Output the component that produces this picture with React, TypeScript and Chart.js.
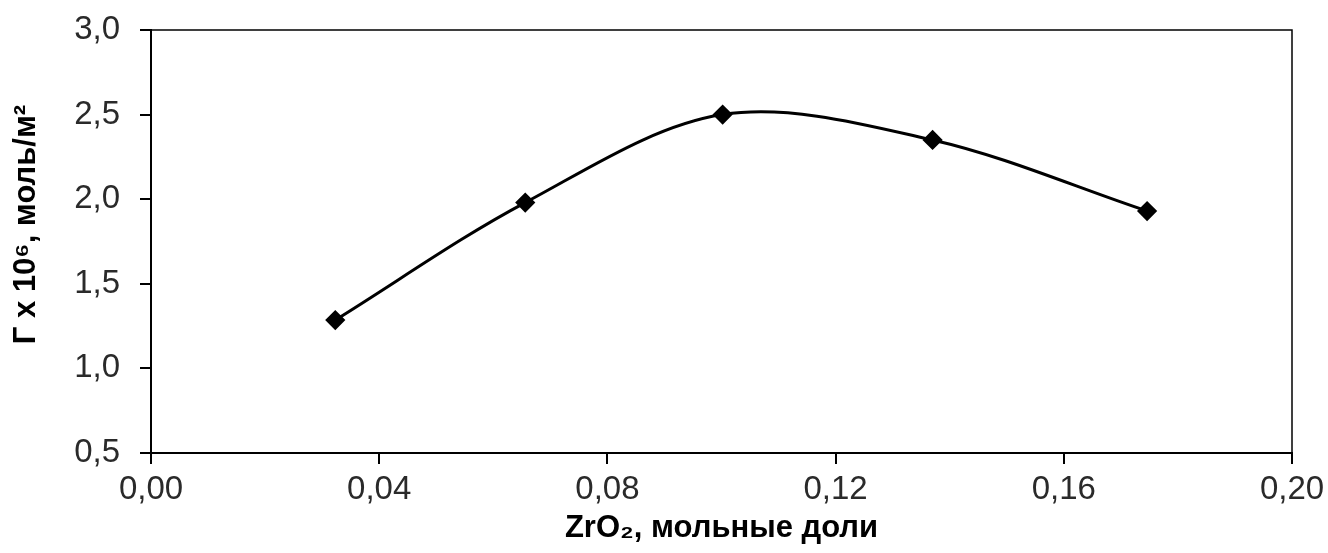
import React, { useEffect, useRef } from "react";
import { Chart, registerables } from "chart.js";

Chart.register(...registerables);

const xValues = [0.0323, 0.0656, 0.1002, 0.137, 0.1746];
const yValues = [1.286, 1.98, 2.5, 2.35, 1.93];
const xTitle = "ZrO\u2082, мольные доли";
const yTitle = "Г x 10\u2076, моль/м\u00B2";

const FAMILY = "'Liberation Sans', Arial, sans-serif";

const boxPlugin = {
  id: "box",
  afterDraw(chart: any) {
    const { ctx, chartArea } = chart;
    ctx.save();
    ctx.strokeStyle = "#000";
    ctx.lineWidth = 1.5;
    ctx.strokeRect(chartArea.left, chartArea.top, chartArea.right - chartArea.left, chartArea.bottom - chartArea.top);
    ctx.restore();
  },
};

const yTitlePlugin = {
  id: "yTitle",
  afterDraw(chart: any) {
    const { ctx, chartArea } = chart;
    const cy = (chartArea.top + chartArea.bottom) / 2 - 17;
    ctx.save();
    ctx.translate(26, cy);
    ctx.rotate(-Math.PI / 2);
    ctx.font = `bold 31px ${FAMILY}`;
    ctx.fillStyle = "#000";
    ctx.textAlign = "center";
    ctx.textBaseline = "middle";
    ctx.fillText(yTitle, 0, 0);
    ctx.restore();
  },
};

export default function App() {
  const ref = useRef<HTMLCanvasElement>(null);
  useEffect(() => {
    if (!ref.current) return;
    const tickFont = { family: FAMILY, size: 33 };
    const titleFont = { family: FAMILY, size: 31, weight: "bold" as const };
    const chart = new Chart(ref.current, {
      type: "line",
      data: {
        datasets: [
          {
            data: xValues.map((x, i) => ({ x, y: yValues[i] })),
            borderColor: "#000",
            backgroundColor: "#000",
            borderWidth: 3,
            tension: 0.33,
            pointStyle: "rectRot",
            pointRadius: 8,
            pointBackgroundColor: "#000",
            pointBorderColor: "#000",
          },
        ],
      },
      options: {
        animation: false,
        responsive: false,
        layout: { padding: { left: 0, right: 36, top: 30, bottom: 0 } },
        plugins: { legend: { display: false }, tooltip: { enabled: false } },
        scales: {
          x: {
            type: "linear",
            min: 0,
            max: 0.2,
            ticks: {
              stepSize: 0.04,
              color: "#2a2a2a",
              font: tickFont,
              padding: 6,
              maxRotation: 0,
              callback: (v: any) => Number(v).toFixed(2).replace(".", ","),
            },
            grid: { drawOnChartArea: false, drawTicks: true, tickLength: 11, color: "#000", lineWidth: 2 },
            border: { display: true, color: "#000", width: 2 },
            title: { display: true, text: xTitle, color: "#000", font: titleFont, padding: { top: 0, bottom: 6 } },
            afterFit: (s: any) => {
              s.height = 100;
              s.paddingLeft = 0;
              s.paddingRight = 0;
            },
          },
          y: {
            type: "linear",
            min: 0.5,
            max: 3,
            ticks: {
              stepSize: 0.5,
              color: "#2a2a2a",
              font: tickFont,
              padding: 20,
              callback: (v: any) => Number(v).toFixed(1).replace(".", ","),
            },
            grid: { drawOnChartArea: false, drawTicks: true, tickLength: 11, color: "#000", lineWidth: 2 },
            border: { display: true, color: "#000", width: 2 },
            title: { display: false },
            afterFit: (s: any) => {
              s.width = 151;
              s.paddingTop = 0;
              s.paddingBottom = 0;
            },
          },
        },
      },
      plugins: [boxPlugin, yTitlePlugin],
    });
    return () => chart.destroy();
  }, []);
  return (
    <div style={{ position: "absolute", left: 0, top: 0, width: 1328, height: 553, background: "#fff" }}>
      <canvas ref={ref} width={1328} height={553} style={{ width: 1328, height: 553 }} />
    </div>
  );
}
